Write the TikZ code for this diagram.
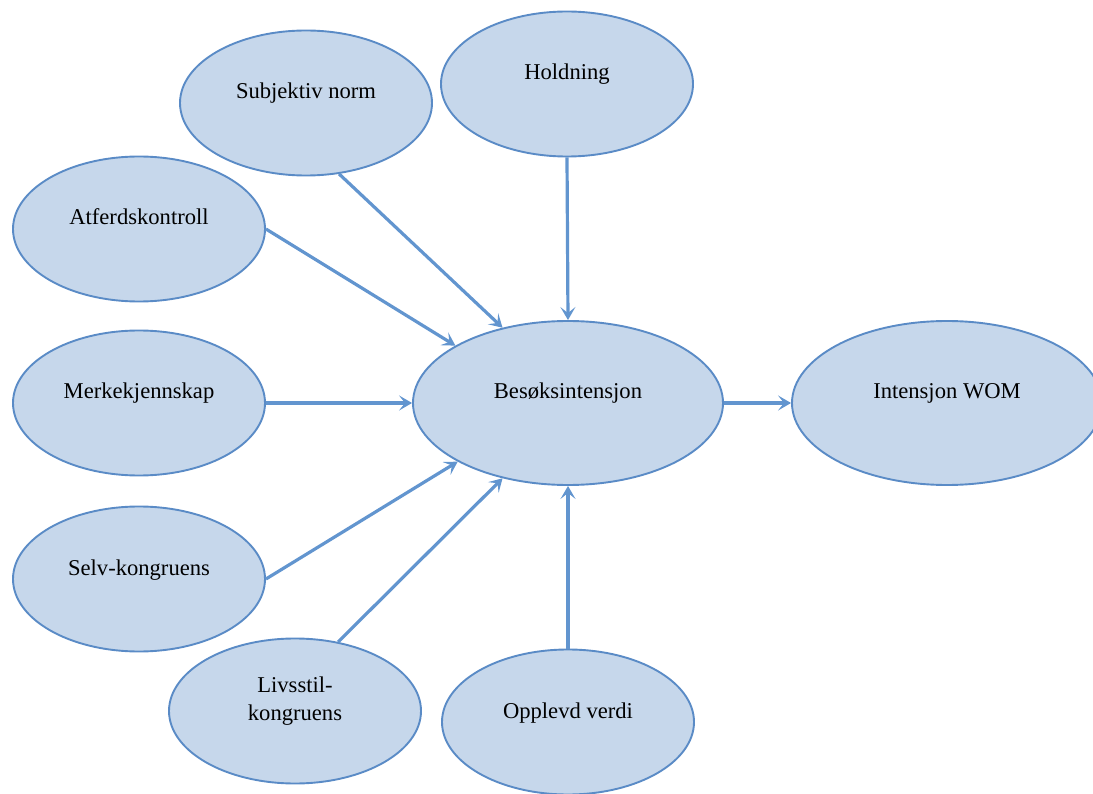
\documentclass[tikz,border=0pt]{standalone}
\usepackage{fontspec}
\setmainfont{Liberation Serif}
\usetikzlibrary{shapes.geometric,arrows.meta}
\definecolor{bubblefill}{HTML}{C6D7EB}
\definecolor{bubbleline}{HTML}{5A8BC6}
\definecolor{linkline}{HTML}{6295CF}
\begin{document}
\begin{tikzpicture}[x=1pt,y=-1pt,
    bubble/.style={ellipse,draw=bubbleline,line width=1.9pt,fill=bubblefill,inner sep=0pt,
        minimum width=252pt,minimum height=145pt,align=center,
        font=\fontsize{22.6}{26}\selectfont,text height=15pt,text depth=23pt},
    bigbubble/.style={bubble,minimum width=310pt,minimum height=164pt},
    link/.style={draw=linkline,line width=3.2pt,-{Stealth[length=13pt,width=15pt,inset=6pt]}}]
        \useasboundingbox (0,0) rectangle (1093,794);
        \node[bubble] (subj) at (306,103) {Subjektiv norm};
        \node[bubble] (hold) at (567,84) {Holdning};
        \node[bubble] (atf) at (139,229) {Atferdskontroll};
        \node[bubble] (merk) at (139,403) {Merkekjennskap};
        \node[bubble] (selv) at (139,579) {Selv-kongruens};
        \node[bubble,text height=33pt,text depth=15pt] (livs) at (295,711) {Livsstil-\\[2pt]kongruens};
        \node[bubble] (opp) at (568,722) {Opplevd verdi};
        \node[bigbubble] (bes) at (568,403) {Besøksintensjon};
        \node[bigbubble] (wom) at (947,403) {Intensjon WOM};
        % arrows into the centre
        \draw[link] (subj.-65) -- (bes.131);
        \draw[link] (hold.south) -- (bes.north);
        \draw[link] (atf.east) -- (bes.153);
        \draw[link] (merk.east) -- (bes.west);
        \draw[link] (selv.east) -- (bes.208);
        \draw[link] (livs.58) -- (bes.229);
        \draw[link] (opp.north) -- (bes.south);
        \draw[link] (bes.east) -- (wom.west);
    \end{tikzpicture}
\end{document}
